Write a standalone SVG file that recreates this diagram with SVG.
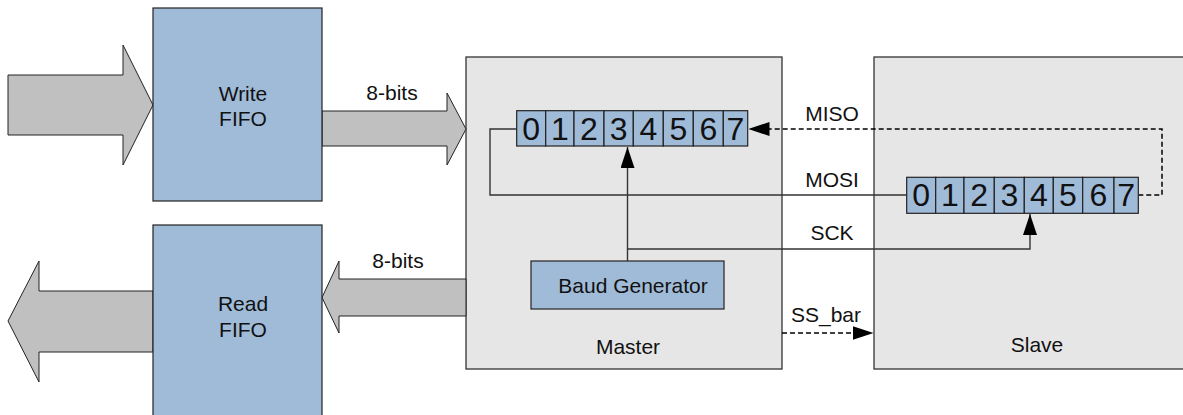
<svg xmlns="http://www.w3.org/2000/svg" width="1183" height="415" viewBox="0 0 1183 415">
<defs>
<style>
.t{font-family:"Liberation Sans",Arial,sans-serif;font-size:21px;fill:#111;text-anchor:middle}
.d{font-family:"Liberation Sans",Arial,sans-serif;font-size:32px;fill:#111;text-anchor:middle}
.blue{fill:#a0bbd8;stroke:#222;stroke-width:1.2}
.box{fill:#e6e6e6;stroke:#333;stroke-width:1.3}
.bus{fill:#c0c0c0;stroke:#222;stroke-width:1}
.ln{fill:none;stroke:#333;stroke-width:1.4}
.dash{fill:none;stroke:#000;stroke-width:1.5;stroke-dasharray:5,3}
.cell{fill:#a0bbd8;stroke:#222;stroke-width:1.2}
</style>
<marker id="ah" viewBox="0 0 21 14" refX="21" refY="7" markerWidth="21" markerHeight="14" markerUnits="userSpaceOnUse" orient="auto">
<path d="M0,0 L21,7 L0,14 Z" fill="#000"/>
</marker>
</defs>

<g id="master">
<rect class="box" x="466" y="57" width="316" height="312"/>
<text class="t" x="628" y="354">Master</text>
</g>
<g id="slave">
<rect class="box" x="874" y="57" width="330" height="312"/>
<text class="t" x="1037" y="352">Slave</text>
</g>

<g id="buses">
<path class="bus" d="M8,75 H123 V45 L153,105 L123,165 V135 H8 Z"/>
<path class="bus" d="M322,111 H447 V93 L466,129 L447,165 V146 H322 Z"/>
<path class="bus" d="M466,279 H339 V261 L322,297.5 L339,333 V316 H466 Z"/>
<path class="bus" d="M153,291 H39 V261 L8,321 L39,382 V352 H153 Z"/>
</g>

<g id="write-fifo">
<rect class="blue" x="153" y="8" width="169" height="193"/>
<text class="t" x="243" y="101">Write</text>
<text class="t" x="243" y="126">FIFO</text>
</g>
<g id="read-fifo">
<rect class="blue" x="153" y="225" width="169" height="200"/>
<text class="t" x="243" y="311">Read</text>
<text class="t" x="243" y="337">FIFO</text>
</g>

<g id="baud-generator">
<rect class="blue" x="531" y="261" width="193" height="48"/>
<text class="t" x="633" y="293">Baud Generator</text>
</g>

<g id="connectors">
<path class="ln" d="M516.7,129 H490 V195 H906.7"/>
<path class="ln" d="M627.5,261 V147" marker-end="url(#ah)"/>
<path class="ln" d="M627.5,249 H1030 V214" marker-end="url(#ah)"/>
<path class="dash" d="M1138.3,195 H1162 V129 H768"/>
<path d="M771,129 H748.5" fill="none" stroke="none" marker-end="url(#ah)"/>
<path class="dash" d="M782,333 H853"/>
<path d="M850,333 H873.5" fill="none" stroke="none" marker-end="url(#ah)"/>
</g>

<g id="labels">
<text class="t" x="392" y="100">8-bits</text>
<text class="t" x="398" y="268">8-bits</text>
<text class="t" x="832" y="121">MISO</text>
<text class="t" x="832" y="187">MOSI</text>
<text class="t" x="832" y="240">SCK</text>
<text class="t" x="826" y="322">SS_bar</text>
</g>

<g id="master-register">
<rect class="cell" x="516.7" y="110.7" width="29" height="35.3"/>
<rect class="cell" x="545.7" y="110.7" width="28.3" height="35.3"/>
<rect class="cell" x="574" y="110.7" width="30" height="35.3"/>
<rect class="cell" x="604" y="110.7" width="29.3" height="35.3"/>
<rect class="cell" x="633.3" y="110.7" width="30" height="35.3"/>
<rect class="cell" x="663.3" y="110.7" width="30" height="35.3"/>
<rect class="cell" x="693.3" y="110.7" width="30" height="35.3"/>
<rect class="cell" x="723.3" y="110.7" width="24.4" height="35.3"/>
<text class="d" x="531.2" y="139.5">0</text>
<text class="d" x="559.8" y="139.5">1</text>
<text class="d" x="589" y="139.5">2</text>
<text class="d" x="618.6" y="139.5">3</text>
<text class="d" x="648.3" y="139.5">4</text>
<text class="d" x="678.3" y="139.5">5</text>
<text class="d" x="708.3" y="139.5">6</text>
<text class="d" x="735.5" y="139.5">7</text>
</g>

<g id="slave-register">
<rect class="cell" x="906.7" y="177.3" width="29" height="36"/>
<rect class="cell" x="935.7" y="177.3" width="28.3" height="36"/>
<rect class="cell" x="964" y="177.3" width="30.3" height="36"/>
<rect class="cell" x="994.3" y="177.3" width="30" height="36"/>
<rect class="cell" x="1024.3" y="177.3" width="29" height="36"/>
<rect class="cell" x="1053.3" y="177.3" width="29.4" height="36"/>
<rect class="cell" x="1082.7" y="177.3" width="31.3" height="36"/>
<rect class="cell" x="1114" y="177.3" width="24.3" height="36"/>
<text class="d" x="921.2" y="206">0</text>
<text class="d" x="949.8" y="206">1</text>
<text class="d" x="979.2" y="206">2</text>
<text class="d" x="1009.3" y="206">3</text>
<text class="d" x="1038.8" y="206">4</text>
<text class="d" x="1068" y="206">5</text>
<text class="d" x="1098.3" y="206">6</text>
<text class="d" x="1126.2" y="206">7</text>
</g>
</svg>
